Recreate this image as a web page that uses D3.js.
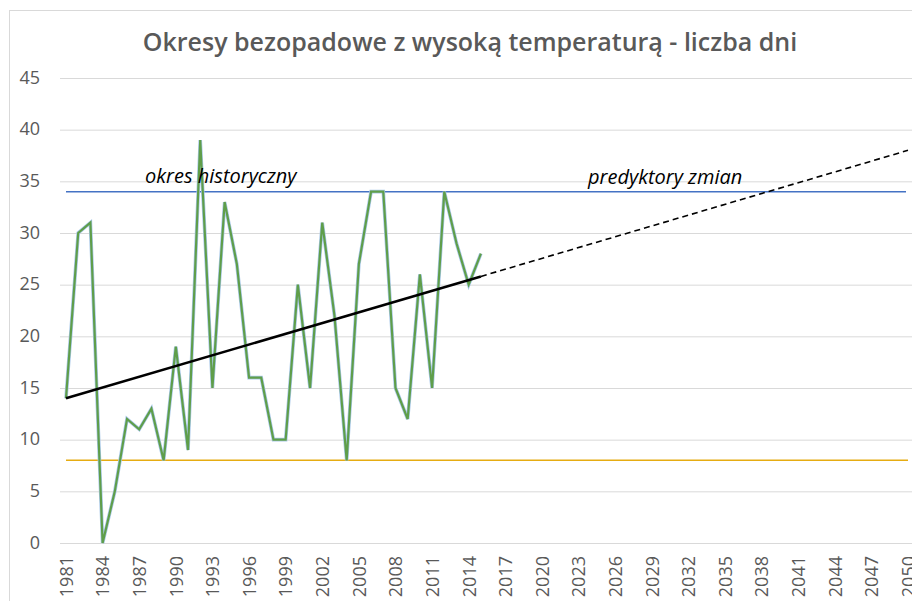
<!DOCTYPE html>
<html>
<head>
<meta charset="utf-8">
<script src="https://cdn.jsdelivr.net/npm/d3@7"></script>
<style>
  body { margin: 0; background: #fff; }
  text { font-family: "Open Sans", "Noto Sans", sans-serif; }
</style>
</head>
<body>
<div id="main"></div>
<script>
// years on the category axis
const years = d3.range(1981, 2051);
const tickYears = years.filter((d, i) => i % 3 === 0);
const yTicks = [0, 5, 10, 15, 20, 25, 30, 35, 40, 45];

// observed values 1981-2015
const obsYears = d3.range(1981, 2016);
const obsValues = [14, 30, 31, 0, 5, 12, 11, 13, 8, 19, 9, 39, 15, 33, 27, 16, 16, 10, 10, 25,
  15, 31, 22, 8, 27, 34, 34, 15, 12, 26, 15, 34, 29, 25, 28];

// trend line (solid over history, dashed forecast)
const trendYears = [1981, 2015];
const trendValues = [14, 25.8];
const forecastYears = [2015, 2050];
const forecastValues = [25.8, 38];

// reference levels
const upperLevel = 34;
const lowerLevel = 8;

const W = 912, H = 601;

let x = d3.scalePoint()
  .domain(years)
  .range([66, 908]);

let y = d3.scaleLinear()
  .domain([0, 45])
  .range([543, 78]);

let svg = d3.select("#main")
  .append("svg")
    .attr("width", W)
    .attr("height", H);

// chart border
svg.append("rect")
  .attr("x", 9.5).attr("y", 10.5)
  .attr("width", W).attr("height", H)
  .attr("fill", "none")
  .attr("stroke", "#d9d9d9");

// title
svg.append("text")
  .attr("x", 470).attr("y", 51)
  .attr("text-anchor", "middle")
  .attr("font-size", 25)
  .attr("font-weight", 600)
  .attr("fill", "#595959")
  .text("Okresy bezopadowe z wysoką temperaturą - liczba dni");

// gridlines + y labels
let yAxis = svg.append("g")
  .attr("transform", "translate(60,0)")
  .call(d3.axisLeft(y).tickValues(yTicks).tickSize(-(W - 60)).tickPadding(20));
yAxis.select(".domain").remove();
yAxis.selectAll(".tick line").attr("stroke", "#d9d9d9");
yAxis.selectAll(".tick text")
  .attr("font-size", 18)
  .attr("fill", "#595959")
  .attr("dy", "0.28em")
  .style("font-family", "'Open Sans', sans-serif");

// x labels
let xAxis = svg.append("g")
  .attr("transform", "translate(0,543)")
  .call(d3.axisBottom(x).tickValues(tickYears).tickSize(0));
xAxis.select(".domain").remove();
xAxis.selectAll(".tick text")
  .attr("font-size", 18)
  .attr("fill", "#595959")
  .style("font-family", "'Open Sans', sans-serif")
  .attr("text-anchor", "end")
  .attr("transform", "rotate(-90)")
  .attr("x", -13)
  .attr("dy", "0.35em")
  .attr("y", 0);

// reference levels
svg.append("line")
  .attr("x1", x(1981)).attr("x2", 906)
  .attr("y1", y(upperLevel)).attr("y2", y(upperLevel))
  .attr("stroke", "#4472c4").attr("stroke-width", 1.5);
svg.append("line")
  .attr("x1", x(1981)).attr("x2", x(2050))
  .attr("y1", y(lowerLevel)).attr("y2", y(lowerLevel))
  .attr("stroke", "#e6ac12").attr("stroke-width", 1.5);

// observed series
const obs = obsYears.map((d, i) => ({year: d, v: obsValues[i]}));
const line = d3.line().x(d => x(d.year)).y(d => y(d.v));
svg.append("path")
  .datum(obs)
  .attr("d", line)
  .attr("fill", "none")
  .attr("stroke", "#a9c8e8")
  .attr("stroke-width", 3.6)
  .attr("stroke-linejoin", "miter");
svg.append("path")
  .datum(obs)
  .attr("d", line)
  .attr("fill", "none")
  .attr("stroke", "#5f9e4a")
  .attr("stroke-width", 2.2)
  .attr("stroke-linejoin", "miter");

// trend
const trend = trendYears.map((d, i) => ({year: d, v: trendValues[i]}));
svg.append("path")
  .datum(trend)
  .attr("d", line)
  .attr("fill", "none")
  .attr("stroke", "#000")
  .attr("stroke-width", 2.6);

const forecast = forecastYears.map((d, i) => ({year: d, v: forecastValues[i]}));
svg.append("path")
  .datum(forecast)
  .attr("d", line)
  .attr("fill", "none")
  .attr("stroke", "#000")
  .attr("stroke-width", 1.6)
  .attr("stroke-dasharray", "6,4");

// annotations
svg.append("text")
  .attr("x", 145).attr("y", 183)
  .attr("font-size", 20)
  .attr("font-style", "italic")
  .attr("fill", "#000")
  .text("okres historyczny");
svg.append("text")
  .attr("x", 588).attr("y", 184)
  .attr("font-size", 20)
  .attr("font-style", "italic")
  .attr("fill", "#000")
  .text("predyktory zmian");
</script>
</body>
</html>
